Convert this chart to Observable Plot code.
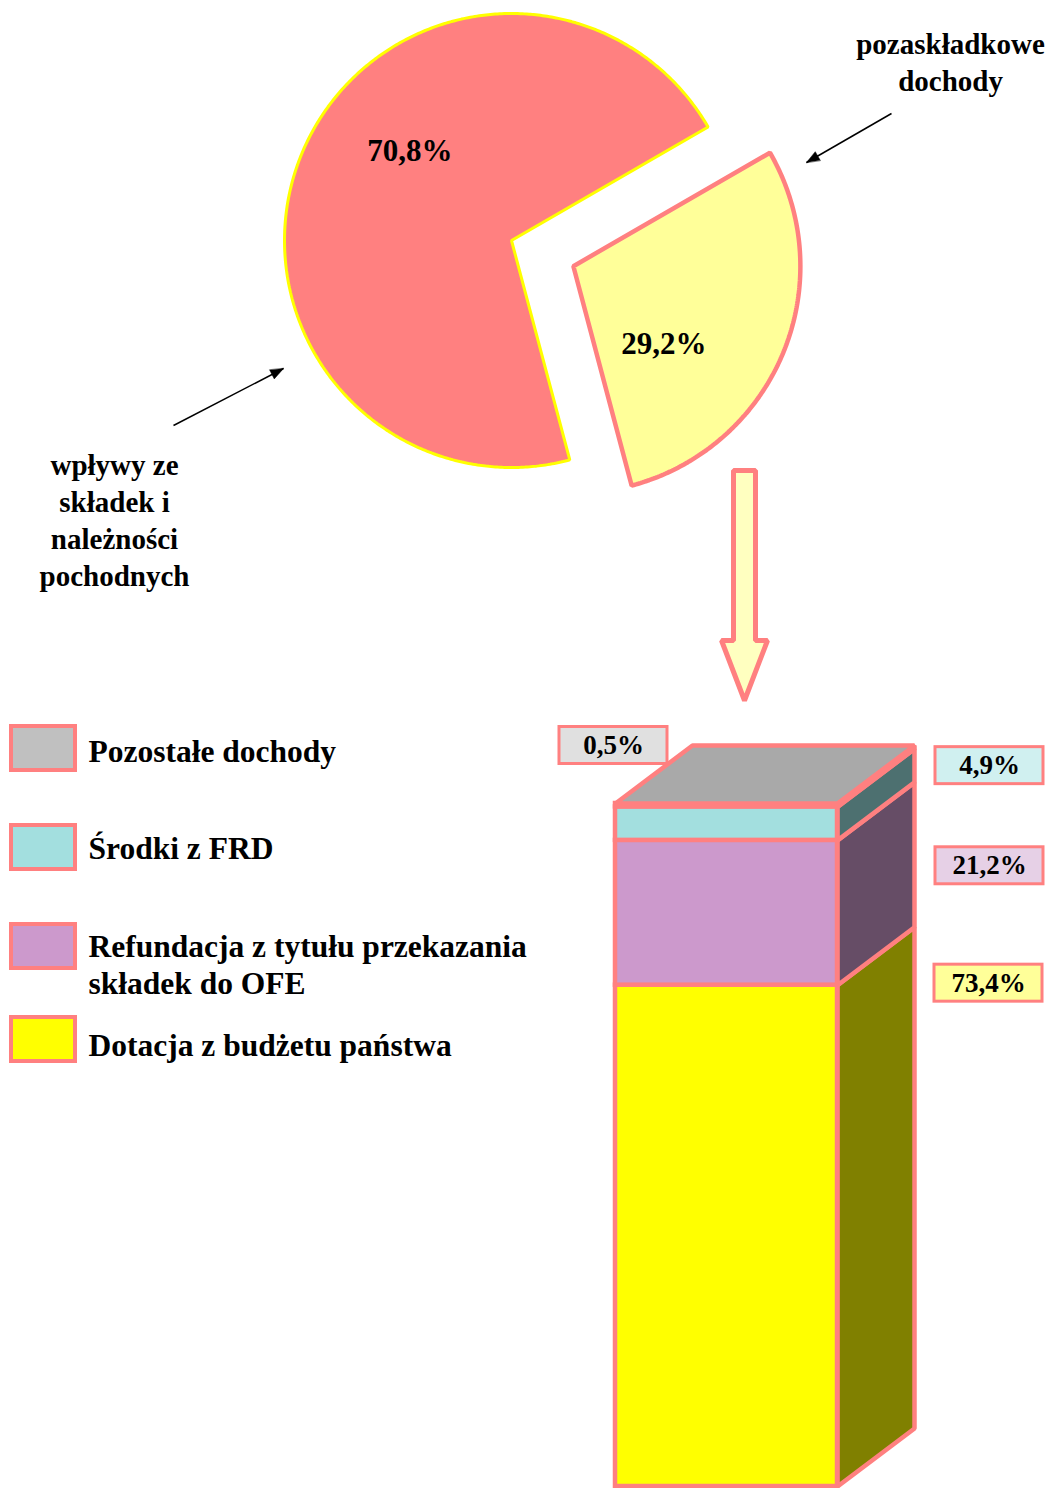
<!DOCTYPE html>
<html><head><meta charset="utf-8">
<script src="https://cdn.jsdelivr.net/npm/d3@7"></script>
<script src="https://cdn.jsdelivr.net/npm/@observablehq/plot@0.6"></script>
<style>html,body{margin:0;padding:0;background:#fff;}#chart{width:1049px;height:1488px;overflow:hidden;}</style>
</head><body><div id="chart"></div>
<script>
// ---------- DATA ----------
const pieCategories = ["wpływy ze\nskładek i\nnależności\npochodnych", "pozaskładkowe\ndochody"];
const pieValues = [70.8, 29.2];
const barCategories = ["Dotacja z budżetu państwa", "Refundacja z tytułu przekazania\nskładek do OFE", "Środki z FRD", "Pozostałe dochody"];
const barValues = [73.4, 21.2, 4.9, 0.5];
const fmt = v => v.toFixed(1).replace(".", ",") + "%";

// ---------- STYLE ----------
const FONT = "'Liberation Serif', 'Times New Roman', serif";
const BORDER = "#ff8080";
const pieFill = ["#ff8080", "#ffff99"];
const pieStroke = ["#ffff00", "#ff8080"];
const pieStrokeW = [3, 4.5];
const barFront = ["#ffff00", "#cc99cc", "#a3dfdf", "#c0c0c0"];
const barSide = ["#808000", "#664d66", "#4d7070", "#5a5a5a"];
const barTop = "#a9a9a9";
const labelFill = ["#ffff99", "#e6d0e6", "#d0f0f0", "#e0e0e0"];

// ---------- LAYOUT ----------
const W = 1049, H = 1488;
const PIE = {cx: 511, cy: 240, r: 227, splitDeg: 60, explode: 67, labelShift: 18.6, labelR: [0.595, 0.53], font: 31};
const BAR = {x0: 615, x1: 837, bottom: 1486, top: 803, dx: 77, dy: 58, sw: 4.5};
const yPct = Plot.scale({y: {domain: [0, 100], range: [BAR.bottom, BAR.top]}});
const rad = d => d * Math.PI / 180;

// ---------- PIE GEOMETRY (from values) ----------
const total = d3.sum(pieValues);
const start = rad(PIE.splitDeg) - 2 * Math.PI * pieValues[0] / total + 2 * Math.PI;
const arcs = d3.pie().sort(null).startAngle(start).endAngle(start + 2 * Math.PI)(pieValues);
const slices = arcs.map((a, i) => {
  const mid = (a.startAngle + a.endAngle) / 2;
  const off = i === 1 ? PIE.explode : 0;
  const cx = PIE.cx + off * Math.sin(mid), cy = PIE.cy - off * Math.cos(mid);
  const n = Math.ceil((a.endAngle - a.startAngle) / 0.01);
  const pts = [{x: cx, y: cy}];
  for (let k = 0; k <= n; k++) {
    const t = a.startAngle + (a.endAngle - a.startAngle) * k / n;
    pts.push({x: cx + PIE.r * Math.sin(t), y: cy - PIE.r * Math.cos(t)});
  }
  const la = mid + rad(PIE.labelShift), lr = PIE.r * PIE.labelR[i];
  return {pts, label: {x: cx + lr * Math.sin(la), y: cy - lr * Math.cos(la) - 1, text: fmt(a.data)}};
});

// ---------- BAR GEOMETRY (from values) ----------
const cum = d3.cumsum(barValues);
const segs = barValues.map((v, i) => ({i, v, lo: cum[i] - v, hi: cum[i], cat: barCategories[i]}));
const Y = p => yPct.apply(p);
const sidePolys = segs.map(s => [
  {x: BAR.x1, y: Y(s.lo)}, {x: BAR.x1 + BAR.dx, y: Y(s.lo) - BAR.dy},
  {x: BAR.x1 + BAR.dx, y: Y(s.hi) - BAR.dy}, {x: BAR.x1, y: Y(s.hi)}]);
const topPoly = [
  {x: BAR.x0, y: Y(100)}, {x: BAR.x0 + BAR.dx, y: Y(100) - BAR.dy},
  {x: BAR.x1 + BAR.dx, y: Y(100) - BAR.dy}, {x: BAR.x1, y: Y(100)}];

// value label boxes
const LBL = {w: 108, h: 37, font: 27};
const labelPos = segs.map(s => {
  if (s.i === 0) return {x: 988, y: Y(s.hi) - 2};
  if (s.i === 1) return {x: 989, y: Y((s.lo + s.hi) / 2) - BAR.dy + 11};
  if (s.i === 2) return {x: 989, y: Y((s.lo + s.hi) / 2) - BAR.dy};
  return {x: 613, y: Y(s.hi) - BAR.dy};
}).map((p, i) => ({...p, text: fmt(barValues[i]), fill: labelFill[i]}));

// legend (top to bottom: reverse of stacking)
const LEG = {bx0: 11, bx1: 75, bh: 44, tx: 88, font: 31.5, boxY: [748, 847, 946, 1039], textY: [749, 846, 963, 1043]};
const legendItems = [3, 2, 1, 0].map((i, k) => ({i, by: LEG.boxY[k], ty: LEG.textY[k], text: barCategories[i], fill: barFront[i]}));

// hollow down arrow
const BIG = {cx: 744, top: 470, headTop: 640, tip: 700, shaftHalf: 11, headHalf: 23};
const bigArrow = [
  {x: BIG.cx - BIG.shaftHalf, y: BIG.top}, {x: BIG.cx + BIG.shaftHalf, y: BIG.top},
  {x: BIG.cx + BIG.shaftHalf, y: BIG.headTop}, {x: BIG.cx + BIG.headHalf, y: BIG.headTop},
  {x: BIG.cx, y: BIG.tip}, {x: BIG.cx - BIG.headHalf, y: BIG.headTop},
  {x: BIG.cx - BIG.shaftHalf, y: BIG.headTop}];

// annotation arrows
const pointers = [
  {x1: 891, y1: 113, x2: 806, y2: 162},
  {x1: 173, y1: 425, x2: 283, y2: 368}];
const heads = pointers.map(p => {
  const L = Math.hypot(p.x2 - p.x1, p.y2 - p.y1), ux = (p.x2 - p.x1) / L, uy = (p.y2 - p.y1) / L;
  const hl = 13, hw = 5;
  return [{x: p.x2, y: p.y2},
    {x: p.x2 - hl * ux - hw * uy, y: p.y2 - hl * uy + hw * ux},
    {x: p.x2 - hl * ux + hw * uy, y: p.y2 - hl * uy - hw * ux}];
});
const annotations = [
  {x: 950, y: 60.5, text: pieCategories[1]},
  {x: 114, y: 518, text: pieCategories[0]}];

const poly = (pts, o) => Plot.line(pts, {x: "x", y: "y", curve: "linear-closed", strokeLinejoin: "miter", ...o});
const txt = {fontFamily: FONT, fontWeight: "bold", fill: "black"};

const marks = [];
// pie
slices.forEach((s, i) => marks.push(poly(s.pts, {fill: pieFill[i], stroke: pieStroke[i], strokeWidth: pieStrokeW[i]})));
marks.push(Plot.text(slices.map(s => s.label), {x: "x", y: "y", text: "text", fontSize: PIE.font, lineAnchor: "middle", ...txt}));
// pointers
marks.push(Plot.link(pointers, {x1: "x1", y1: "y1", x2: "x2", y2: "y2", stroke: "black", strokeWidth: 1.5}));
heads.forEach(h => marks.push(poly(h, {fill: "black", stroke: "black", strokeWidth: 0.5})));
marks.push(Plot.text(annotations, {x: "x", y: "y", text: "text", fontSize: 29, lineHeight: 1.28, lineAnchor: "middle", ...txt}));
// big arrow
marks.push(poly(bigArrow, {fill: "#ffffc0", stroke: BORDER, strokeWidth: 5}));
// bar sides, fronts, top
sidePolys.forEach((p, i) => marks.push(poly(p, {fill: barSide[i], stroke: BORDER, strokeWidth: BAR.sw})));
marks.push(Plot.rect(segs, {x1: () => BAR.x0, x2: () => BAR.x1, y1: d => Y(d.lo), y2: d => Y(d.hi),
  fill: d => barFront[d.i], stroke: BORDER, strokeWidth: BAR.sw, strokeLinejoin: "miter"}));
marks.push(poly(topPoly, {fill: barTop, stroke: BORDER, strokeWidth: BAR.sw}));
// value labels
marks.push(Plot.rect(labelPos, {x1: d => d.x - LBL.w / 2, x2: d => d.x + LBL.w / 2, y1: d => d.y - LBL.h / 2, y2: d => d.y + LBL.h / 2,
  fill: "fill", stroke: BORDER, strokeWidth: 3}));
marks.push(Plot.text(labelPos, {x: "x", y: "y", text: "text", fontSize: LBL.font, lineAnchor: "middle", ...txt}));
// legend
marks.push(Plot.rect(legendItems, {x1: () => LEG.bx0, x2: () => LEG.bx1, y1: d => d.by - LEG.bh / 2, y2: d => d.by + LEG.bh / 2,
  fill: "fill", stroke: BORDER, strokeWidth: 4}));
marks.push(Plot.text(legendItems, {x: () => LEG.tx, y: "ty", text: "text", textAnchor: "start", fontSize: LEG.font, lineHeight: 1.2, lineAnchor: "middle", ...txt}));

const chart = Plot.plot({
  width: W, height: H, margin: 0,
  x: {domain: [0, W], range: [0, W], axis: null},
  y: {domain: [0, H], range: [0, H], axis: null},
  color: {type: "identity"},
  style: {background: "white"},
  marks
});
document.getElementById("chart").appendChild(chart);
</script>
</body></html>
